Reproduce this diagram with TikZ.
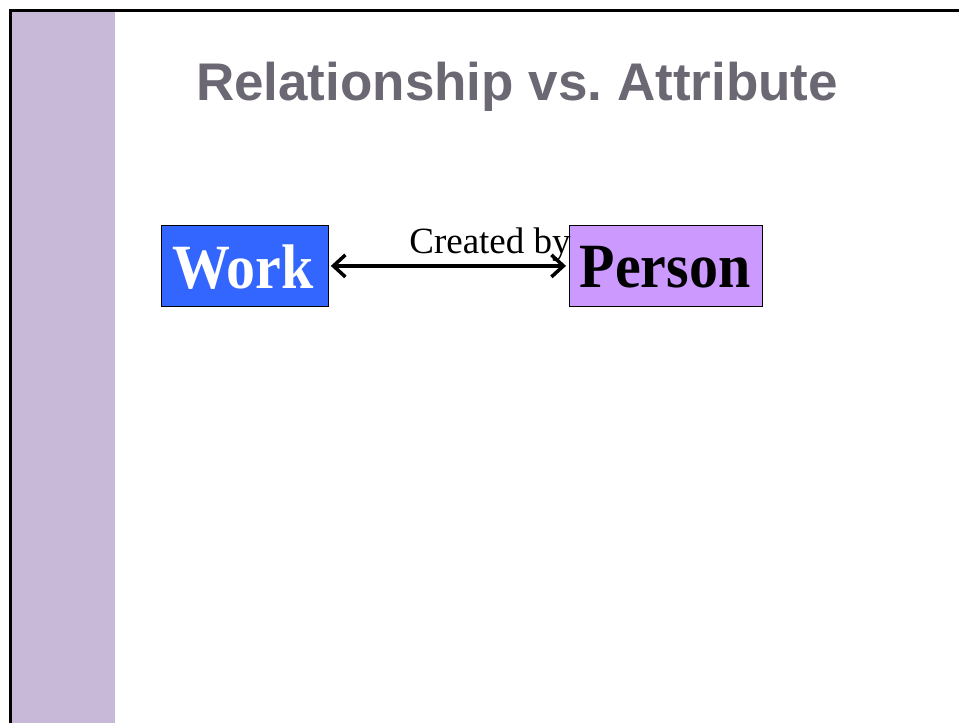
\documentclass[tikz,border=0pt]{standalone}
\usepackage{fontspec}
\setmainfont{Liberation Serif}
\newfontfamily\titlefont{Liberation Sans}
\usetikzlibrary{arrows.meta}
\definecolor{titlegray}{HTML}{6B6873}
\definecolor{barpurple}{HTML}{C9B9D9}
\definecolor{workblue}{HTML}{3366FF}
\definecolor{personpurple}{HTML}{CC99FF}
\tikzset{
  entity/.style={draw=black, line width=0.8pt, inner sep=0pt, anchor=north west},
  connector/.style={line width=3.5pt, line cap=round, {Straight Barb[length=12pt,width=22pt,line width=3.5pt]}-{Straight Barb[length=12pt,width=22pt,line width=3.5pt]}}
}
\begin{document}
\begin{tikzpicture}[x=1pt,y=-1pt]
\useasboundingbox (0,0) rectangle (959,723);
\fill[barpurple] (11,11) rectangle (115,723);
\draw[line width=3pt] (10,723) -- (10,10) -- (959,10);
\node[anchor=base, text=titlegray, font=\titlefont\bfseries\fontsize{53}{56}\selectfont] (title) at (517,100) {Relationship vs.\ Attribute};
\node[entity, fill=workblue, minimum width=167pt, minimum height=81pt] (work) at (161,225) {};
\node[text=white, font=\bfseries\fontsize{63}{66}\selectfont] (worklabel) at (243,267) {\scalebox{0.92}[1]{Work}};
\node[entity, fill=personpurple, minimum width=193pt, minimum height=81pt] (person) at (569,225) {};
\node[text=black, font=\bfseries\fontsize{63}{66}\selectfont] (personlabel) at (665,267) {\scalebox{0.92}[1]{Person}};
\draw[connector, shorten <=2pt, shorten >=3pt] (work.east) -- (work.east -| person.west);
\node[anchor=base, font=\fontsize{37}{40}\selectfont] (label) at (490,253) {Created by};
\end{tikzpicture}
\end{document}
